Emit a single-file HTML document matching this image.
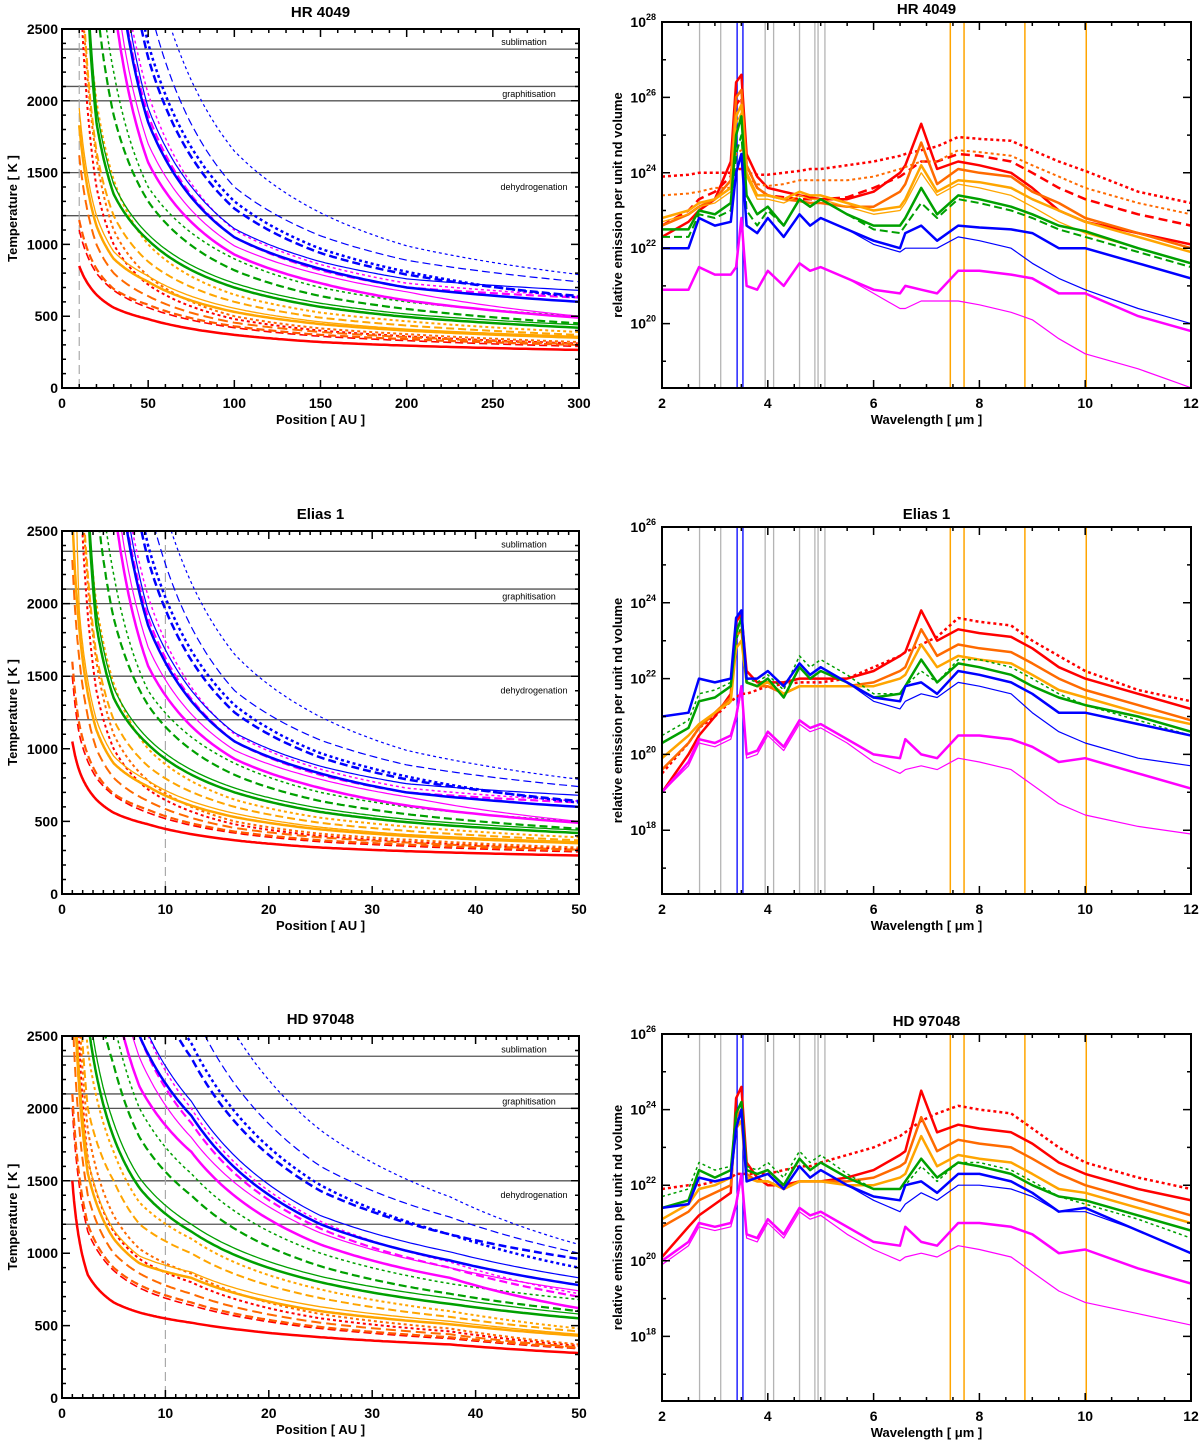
<!DOCTYPE html>
<html><head><meta charset="utf-8">
<style>
html,body{margin:0;padding:0;background:#fff;}
svg{display:block;font-family:"Liberation Sans",sans-serif;}
</style></head>
<body>
<svg id="fig" width="1200" height="1442" viewBox="0 0 1200 1442" xmlns="http://www.w3.org/2000/svg"></svg>
<script>
// ---------- temperature data (K) ----------
const hrX = [10,20,30,50,100,150,200,300];
const eliasX = [1.67,3.33,5,8.33,16.7,25,33.3,50];
const eliasStart = [1050,1500,1600,4500,2300,4800,2600,4600,5200,5700,6500,6800,7500,8200,9800,10500,11200,11900,11200,11900,13300,14000,15400,16800];
const hdX = [1,2.5,5,7.5,12.5,25,37.5,50];

const t01=[850,650,560,480,370,320,295,265], t02=[1100,800,680,560,420,360,330,290], t03=[1170,830,690,580,430,370,340,300],
t04=[3000,1400,1000,720,480,400,360,310], t05=[1620,1000,800,640,455,390,355,305], t06=[3200,1600,1100,780,500,415,375,320],
t07=[1830,1130,900,740,530,445,400,350], t08=[1950,1200,950,780,555,460,410,360], t09=[3300,1650,1200,880,600,490,435,370],
t10=[3800,2000,1450,1000,650,525,465,390], t11=[4500,1850,1350,1030,700,565,495,420], t12=[4700,1950,1420,1070,730,590,515,440],
t13=[5500,2700,1900,1300,820,640,550,450], t14=[6000,3100,2200,1400,900,700,600,500], t15=[7000,3800,2700,1570,930,730,610,490],
t16=[7500,4000,2900,1700,990,790,670,500], t17=[8000,4400,3200,1900,1050,820,700,630], t18=[8500,4700,3400,2050,1100,860,730,640],
t19=[8000,4500,3200,1850,1050,830,700,600], t20=[8500,4700,3400,1950,1110,880,760,680], t21=[9500,5500,3900,2300,1250,940,790,640],
t22=[10000,5800,4100,2400,1300,970,810,630], t23=[11000,6500,4600,2700,1400,1060,890,740], t24=[12000,7500,5300,3100,1650,1220,990,790];
const hrT=[t01,t02,t03,t04,t05,t06,t07,t08,t09,t10,t11,t12,t13,t14,t15,t16,t17,t18,t19,t20,t21,t22,t23,t24];

const h01=[1500,850,660,590,520,420,370,310], h02=[2000,1150,880,760,640,480,410,340], h03=[2100,1200,900,780,660,490,420,345],
h04=[4000,1650,1150,960,800,550,460,360], h05=[2700,1400,1000,860,720,520,440,350], h06=[4200,1850,1260,1030,860,580,480,370],
h07=[3200,1550,1100,930,830,600,510,430], h08=[3400,1650,1160,980,870,630,530,440], h09=[4500,2000,1500,1200,1000,690,560,460],
h10=[5000,2400,1700,1350,1100,750,600,480], h11=[6000,2600,1800,1450,1150,800,650,550], h12=[6300,2750,1900,1520,1200,840,690,580],
h13=[7000,3200,2300,1800,1400,910,720,600], h14=[8000,3600,2600,2000,1550,1000,790,680], h15=[9000,4300,2800,2150,1700,1060,830,620],
h16=[9500,4600,3050,2350,1800,1140,900,740], h17=[10000,5000,3300,2500,1900,1170,900,700], h18=[10500,5300,3500,2650,2000,1220,940,720],
h19=[10000,5000,3300,2500,1950,1200,950,780], h20=[10500,5300,3550,2650,2050,1260,1010,830], h21=[12000,6200,4100,3100,2350,1430,1130,960],
h22=[12500,6500,4300,3250,2450,1470,1130,900], h23=[14000,7300,4800,3600,2700,1600,1250,1000], h24=[16000,8500,5500,4100,3150,1850,1390,1060];
const hdT=[h01,h02,h03,h04,h05,h06,h07,h08,h09,h10,h11,h12,h13,h14,h15,h16,h17,h18,h19,h20,h21,h22,h23,h24];

// temperature curve styles: [color, width, dash]
const tStyles=[["#ff0000",2.5,""],["#ff0000",1.6,"8,4"],["#ff5a00",2.2,"8,4"],["#ff0000",2,"3,3"],["#ff6a00",2,"10,5"],["#ff6a00",2,"3,3"],
["#ffa500",2.5,""],["#ffa500",1.3,""],["#ffa500",2,"8,4"],["#ffa500",2,"3,3"],["#00a000",2.5,""],["#00a000",1.3,""],
["#00a000",2.2,"8,4"],["#00a000",1.5,"3,3"],["#ff00ff",2.5,""],["#ff00ff",1.2,""],["#ff00ff",2.2,"8,4"],["#ff00ff",1.5,"3,3"],
["#0000ff",2.5,""],["#0000ff",1.2,""],["#0000ff",2.5,"8,4"],["#0000ff",2.5,"3,3"],["#0000ff",1.2,"8,4"],["#0000ff",1.2,"3,3"]];

// ---------- spectra (log10 emission) ----------
const wl=[2,2.5,2.7,3.0,3.3,3.4,3.5,3.6,3.8,4.0,4.3,4.6,4.8,5.0,5.5,6.0,6.5,6.6,6.9,7.2,7.6,8.0,8.6,9.0,9.5,10,11,12];
const hrRed=[22.3,22.7,23.0,23.3,24.3,26.4,26.6,24.5,23.9,23.6,23.5,23.4,23.35,23.3,23.3,23.5,24.0,24.2,25.3,24.1,24.3,24.2,24.0,23.6,23.0,22.7,22.4,22.1];
const hrRedDot=[23.9,23.95,24.0,24.0,24.0,24.1,24.1,24.0,23.95,23.95,24.0,24.05,24.1,24.1,24.2,24.3,24.45,24.5,24.6,24.7,24.95,24.9,24.85,24.6,24.3,24.05,23.5,23.2];
const hrRedDash=[22.6,23.0,23.3,23.5,23.9,25.8,26.0,24.2,23.6,23.4,23.35,23.3,23.3,23.3,23.35,23.6,23.9,24.0,24.3,24.3,24.5,24.45,24.3,24.0,23.6,23.3,22.9,22.6];
const hrOrangeDot=[23.4,23.45,23.5,23.6,23.6,24.5,24.6,23.9,23.7,23.65,23.7,23.8,23.8,23.8,23.8,23.9,24.1,24.15,24.3,24.3,24.6,24.55,24.45,24.2,23.9,23.6,23.2,22.9];
const hrOrange=[22.6,22.9,23.1,23.3,23.8,26.0,26.2,24.2,23.6,23.4,23.3,23.25,23.2,23.2,23.1,23.1,23.5,23.7,24.8,23.7,24.1,24.0,23.9,23.5,23.2,22.8,22.4,22.0];
const hrYellow=[22.8,23.0,23.2,23.3,23.6,25.5,25.8,24.0,23.4,23.4,23.3,23.5,23.4,23.4,23.2,23.0,23.1,23.3,24.2,23.5,23.8,23.75,23.6,23.3,23.0,22.7,22.3,21.9];
const hrYellowThin=[22.7,22.9,23.1,23.2,23.5,25.3,25.6,23.9,23.3,23.3,23.2,23.4,23.3,23.3,23.1,22.9,23.0,23.2,24.0,23.4,23.7,23.6,23.4,23.1,22.7,22.4,22.0,21.6];
const hrGreen=[22.5,22.5,23.0,22.9,23.2,25.0,25.5,23.4,22.9,23.1,22.6,23.3,23.1,23.3,22.9,22.6,22.6,22.8,23.6,22.9,23.4,23.3,23.1,22.9,22.6,22.45,22.0,21.6];
const hrGreenDash=[22.3,22.3,22.9,22.8,23.0,24.5,25.0,23.0,22.6,23.0,22.6,23.3,23.1,23.3,22.9,22.5,22.4,22.6,23.2,22.8,23.3,23.2,23.0,22.8,22.5,22.3,21.9,21.5];
const hrBlue=[22.0,22.0,22.8,22.6,22.7,24.0,24.5,22.6,22.4,22.8,22.3,22.9,22.6,22.8,22.5,22.2,22.0,22.4,22.6,22.2,22.6,22.55,22.5,22.4,22.0,22.0,21.6,21.2];
const hrBlueThin=[22.0,22.0,22.8,22.6,22.7,24.0,24.5,22.6,22.4,22.8,22.3,22.9,22.6,22.8,22.5,22.1,21.9,22.0,22.0,22.0,22.3,22.2,22.0,21.6,21.2,20.9,20.4,20.0];
const hrMag=[20.9,20.9,21.5,21.3,21.3,21.5,22.8,21.0,20.9,21.4,21.0,21.6,21.4,21.5,21.2,20.9,20.8,21.0,20.9,20.8,21.4,21.4,21.3,21.2,20.8,20.8,20.2,19.8];
const hrMagThin=[20.9,20.9,21.5,21.3,21.3,21.5,22.8,21.0,20.9,21.4,21.0,21.6,21.4,21.5,21.2,20.8,20.4,20.4,20.6,20.6,20.6,20.5,20.3,20.1,19.6,19.2,18.8,18.3];

const elRed=[19.0,20.0,20.5,21.0,21.6,23.5,23.7,22.2,21.9,21.9,21.9,22.0,22.0,22.0,22.0,22.2,22.6,22.7,23.8,23.0,23.3,23.2,23.1,22.8,22.3,22.0,21.6,21.2];
const elRedDot=[19.5,20.3,20.7,21.0,21.4,21.5,21.6,21.6,21.7,21.8,21.85,21.9,21.9,21.9,22.0,22.3,22.6,22.7,22.9,23.1,23.6,23.5,23.4,23.0,22.6,22.2,21.7,21.4];
const elOrange=[19.6,20.3,20.7,21.1,21.5,23.1,23.3,21.9,21.8,21.8,21.6,21.8,21.8,21.8,21.8,21.9,22.2,22.3,23.3,22.6,22.9,22.8,22.7,22.4,22.0,21.7,21.3,20.9];
const elYellow=[19.9,20.5,20.8,21.1,21.4,22.8,23.0,21.9,21.8,21.9,21.6,21.8,21.8,21.8,21.8,21.8,22.0,22.1,22.9,22.3,22.6,22.5,22.4,22.1,21.7,21.5,21.1,20.8];
const elGreen=[20.3,20.7,21.4,21.5,21.8,23.2,23.6,21.9,21.8,22.0,21.5,22.3,22.0,22.2,21.9,21.5,21.6,21.8,22.5,21.9,22.4,22.3,22.1,21.8,21.5,21.3,21.0,20.6];
const elGreenDot=[20.5,20.9,21.6,21.7,21.9,23.0,23.4,22.0,21.9,22.1,21.7,22.6,22.3,22.5,22.1,21.6,21.6,21.8,22.2,21.9,22.5,22.5,22.3,22.0,21.6,21.3,20.9,20.5];
const elBlue=[21.0,21.1,22.0,21.9,22.0,23.6,23.8,22.0,22.0,22.2,21.8,22.4,22.1,22.3,21.9,21.5,21.4,21.8,21.9,21.6,22.2,22.1,21.9,21.6,21.1,21.1,20.8,20.5];
const elBlueThin=[21.0,21.1,22.0,21.9,22.0,23.6,23.8,22.0,22.0,22.2,21.8,22.4,22.1,22.3,21.9,21.4,21.2,21.4,21.6,21.5,21.9,21.8,21.6,21.1,20.6,20.3,19.9,19.7];
const elMag=[19.0,19.8,20.4,20.3,20.5,21.0,21.8,20.0,20.1,20.6,20.2,20.9,20.7,20.8,20.4,20.0,19.9,20.4,20.0,19.9,20.5,20.5,20.4,20.2,19.8,19.9,19.5,19.1];
const elMagThin=[19.0,19.7,20.3,20.2,20.4,20.9,21.7,19.9,20.0,20.5,20.1,20.8,20.6,20.7,20.3,19.8,19.5,19.6,19.7,19.6,19.9,19.8,19.6,19.2,18.7,18.4,18.1,17.9];

const hdRed=[20.1,20.9,21.2,21.5,21.8,24.3,24.6,22.6,22.2,22.0,22.0,22.1,22.1,22.1,22.2,22.4,22.8,22.9,24.5,23.4,23.6,23.5,23.4,23.1,22.6,22.3,21.9,21.6];
const hdRedDot=[21.9,22.0,22.0,22.1,22.2,22.3,22.3,22.3,22.3,22.3,22.4,22.5,22.5,22.6,22.8,23.0,23.3,23.4,23.7,23.9,24.1,24.0,23.9,23.5,23.0,22.6,22.2,21.9];
const hdOrange=[20.9,21.3,21.6,21.8,22.0,23.8,24.0,22.3,22.1,22.1,21.9,22.1,22.1,22.1,22.1,22.2,22.5,22.6,23.8,22.9,23.2,23.1,23.0,22.7,22.3,22.0,21.6,21.2];
const hdYellow=[21.1,21.5,21.9,22.0,22.2,23.5,23.7,22.2,22.1,22.1,21.9,22.1,22.1,22.1,22.0,22.0,22.2,22.3,23.3,22.5,22.8,22.7,22.6,22.3,21.9,21.8,21.4,21.0];
const hdGreen=[21.4,21.6,22.4,22.2,22.4,23.9,24.2,22.4,22.3,22.4,22.0,22.7,22.4,22.6,22.2,21.9,21.9,22.1,22.7,22.2,22.6,22.5,22.3,22.0,21.7,21.6,21.2,20.8];
const hdGreenDot=[21.7,21.9,22.6,22.4,22.5,23.6,23.9,22.5,22.4,22.6,22.2,22.9,22.6,22.8,22.3,21.9,21.9,22.0,22.5,22.1,22.6,22.6,22.4,22.1,21.7,21.5,21.1,20.6];
const hdBlue=[21.4,21.5,22.2,22.1,22.2,23.5,24.0,22.1,22.2,22.3,21.9,22.5,22.2,22.4,22.0,21.7,21.6,22.0,22.1,21.8,22.3,22.3,22.1,21.8,21.3,21.4,20.8,20.2];
const hdBlueThin=[21.4,21.5,22.2,22.1,22.2,23.5,24.0,22.1,22.2,22.3,21.9,22.5,22.2,22.4,22.0,21.6,21.3,21.5,21.8,21.6,22.0,22.0,21.9,21.7,21.3,21.3,20.8,20.2];
const hdMag=[20.0,20.5,21.0,20.9,21.0,21.5,22.3,20.7,20.6,21.1,20.7,21.4,21.2,21.3,20.9,20.5,20.4,20.9,20.5,20.4,21.0,21.0,20.9,20.7,20.2,20.3,19.8,19.4];
const hdMagThin=[19.9,20.4,20.9,20.8,20.9,21.4,22.2,20.6,20.5,21.0,20.6,21.3,21.1,21.2,20.7,20.3,20.0,20.1,20.2,20.1,20.4,20.3,20.1,19.7,19.2,18.9,18.6,18.3];

const grayLines=[2.71,3.11,3.95,4.11,4.6,4.89,4.95,5.08];
const blueLines=[3.42,3.53];
const orangeLines=[7.45,7.71,8.86,10.02];
const tempLines=[2360,2100,2000,1500,1200];

// ---------- drawing ----------
const NS="http://www.w3.org/2000/svg";
const svg=document.getElementById('fig');
function mk(tag,attrs,parent){const e=document.createElementNS(NS,tag);for(const k in attrs)e.setAttribute(k,attrs[k]);(parent||svg).appendChild(e);return e;}
function txt(x,y,s,size,anchor,weight,parent){const t=mk('text',{x:x,y:y,'font-size':size,'text-anchor':anchor||'middle','font-weight':weight||'bold',fill:'#000'},parent);t.textContent=s;return t;}
let clipId=0;

function tempPanel(title,L,X,series,xmax,xmaj,xmin,starts){
  const g=mk('g',{});
  
  
  const sx=v=>L.x0+(v/xmax)*(L.x1-L.x0);
  const sy=v=>L.y1-(v/2500)*(L.y1-L.y0);
  const cid='c'+(clipId++);
  const cp=mk('clipPath',{id:cid},g);mk('rect',{x:L.x0,y:L.y0,width:L.x1-L.x0,height:L.y1-L.y0},cp);
  const plot=mk('g',{'clip-path':'url(#'+cid+')'},g);
  // reference lines
  tempLines.forEach(T=>{const l=mk('line',{x1:L.x0,x2:L.x1,y1:sy(T),y2:sy(T),stroke:'#555','stroke-width':1.3},plot);
    });
  const vl=mk('line',{x1:sx(10),x2:sx(10),y1:L.y0,y2:L.y1,stroke:'#aaa','stroke-width':1.2,'stroke-dasharray':'9,5'},plot);
  
  // curves
  series.forEach((vals,i)=>{
    let xs=X.slice(), ys=vals.slice();
    if(starts){xs=[1].concat(xs);ys=[starts[i]].concat(ys);}
    let d='';
    for(let k=0;k<xs.length-1;k++){
      const la=Math.log(xs[k]),lb=Math.log(xs[k+1]),ta=Math.log(ys[k]),tb=Math.log(ys[k+1]);
      const n=30;
      for(let j=(k==0?0:1);j<=n;j++){const f=j/n;const x=Math.exp(la+(lb-la)*f),t=Math.exp(ta+(tb-ta)*f);
        d+=(d?'L':'M')+sx(x).toFixed(1)+','+sy(t).toFixed(1);}
    }
    const st=tStyles[i];
    const p=mk('path',{d:d,fill:'none',stroke:st[0],'stroke-width':st[1],'stroke-dasharray':st[2]},plot);
    
    
  });
  // labels for lines
  const lf=9;
  const a=txt(L.x1-55,sy(2360)-4,'sublimation',lf,'middle','normal',g);
  const b=txt(L.x1-50,sy(2000)+13-17,'graphitisation',lf,'middle','normal',g);
  const c=txt(L.x1-45,sy(1380),'dehydrogenation',lf,'middle','normal',g);
  // frame and ticks
  mk('rect',{x:L.x0,y:L.y0,width:L.x1-L.x0,height:L.y1-L.y0,fill:'none',stroke:'#000','stroke-width':2},g);
  let tk='';
  for(let v=0;v<=xmax+1e-9;v+=xmin){const x=sx(v);const len=(Math.abs(v/xmaj-Math.round(v/xmaj))<1e-6)?8:4;
    tk+='M'+x+','+L.y1+'v'+(-len)+'M'+x+','+L.y0+'v'+len;}
  for(let v=0;v<=2500;v+=100){const y=sy(v);const len=(v%500==0)?8:4;tk+='M'+L.x0+','+y+'h'+len+'M'+L.x1+','+y+'h'+(-len);}
  mk('path',{d:tk,stroke:'#000','stroke-width':1.5,fill:'none'},g);
  for(let v=0;v<=xmax;v+=xmaj){const t=txt(sx(v),L.y1+20,String(v),14,'middle','bold',g);}
  for(let v=0;v<=2500;v+=500){const t=txt(L.x0-4,sy(v)+5,String(v),14,'end','bold',g);}
  const tt=txt((L.x0+L.x1)/2,L.y0-10-(L.y0-22>5?0:0),title,15,'middle','bold',g);tt.setAttribute('y',L.y0-12);
  const xt=txt((L.x0+L.x1)/2,L.y1+36,'Position [ AU ]',13,'middle','bold',g);
  const yt=txt(0,0,'Temperature [ K ]',13,'middle','bold',g);yt.setAttribute('transform','translate(17,'+((L.y0+L.y1)/2)+') rotate(-90)');
  
}

function specPanel(title,R,series,styles){
  const g=mk('g',{});
  
  
  const vbot=R.vtop-(R.y1-R.y0)/R.dec;
  const sx=v=>R.x0+(v-2)/10*(R.x1-R.x0);
  const sy=v=>R.y0+(R.vtop-v)*R.dec;
  const cid='c'+(clipId++);
  const cp=mk('clipPath',{id:cid},g);mk('rect',{x:R.x0,y:R.y0,width:R.x1-R.x0,height:R.y1-R.y0},cp);
  const plot=mk('g',{'clip-path':'url(#'+cid+')'},g);
  grayLines.forEach(w=>{const l=mk('line',{x1:sx(w),x2:sx(w),y1:R.y0,y2:R.y1,stroke:'#b4b4b4','stroke-width':1.3},plot);});
  blueLines.forEach(w=>{const l=mk('line',{x1:sx(w),x2:sx(w),y1:R.y0,y2:R.y1,stroke:'#0000ff','stroke-width':1.3},plot);});
  orangeLines.forEach(w=>{const l=mk('line',{x1:sx(w),x2:sx(w),y1:R.y0,y2:R.y1,stroke:'#ffa500','stroke-width':1.5},plot);});
  series.forEach((vals,i)=>{
    let d='';
    wl.forEach((w,k)=>{d+=(k?'L':'M')+sx(w).toFixed(1)+','+sy(vals[k]).toFixed(1);});
    const st=styles[i];
    const p=mk('path',{d:d,fill:'none',stroke:st[0],'stroke-width':st[1],'stroke-dasharray':st[2],'stroke-linejoin':'round'},plot);
    
    
  });
  mk('rect',{x:R.x0,y:R.y0,width:R.x1-R.x0,height:R.y1-R.y0,fill:'none',stroke:'#000','stroke-width':2},g);
  let tk='';
  for(let v=2;v<=12.001;v+=0.5){const x=sx(v);const len=(Math.abs(v%2)<1e-6)?8:4;tk+='M'+x+','+R.y1+'v'+(-len)+'M'+x+','+R.y0+'v'+len;}
  for(let v=Math.ceil(vbot);v<=R.vtop;v++){const y=sy(v);const len=(v%2==0)?8:4;tk+='M'+R.x0+','+y+'h'+len+'M'+R.x1+','+y+'h'+(-len);}
  mk('path',{d:tk,stroke:'#000','stroke-width':1.5,fill:'none'},g);
  for(let v=2;v<=12;v+=2){const t=txt(sx(v),R.y1+20,String(v),14,'middle','bold',g);}
  for(let v=R.vtop;v>vbot;v-=2){
    const t=mk('text',{x:R.x0-6,y:sy(v)+5,'font-size':14,'text-anchor':'end','font-weight':'bold'},g);
    
    const a=mk('tspan',{},t);a.textContent='10';
    const b=mk('tspan',{dy:-7,'font-size':9},t);b.textContent=String(v);
  }
  const tt=txt((R.x0+R.x1)/2,R.y0-8,title,15,'middle','bold',g);
  const xt=txt((R.x0+R.x1)/2,R.y1+36,'Wavelength [ \u03bcm ]',13,'middle','bold',g);
  const yt=txt(0,0,'relative emission per unit nd volume',13,'middle','bold',g);yt.setAttribute('transform','translate(622,'+((R.y0+R.y1)/2)+') rotate(-90)');
  
}

const hrStyles=[["#ff0000",2.5,""],["#ff0000",2.5,"3,3"],["#ff0000",2.5,"9,5"],["#ff6a00",2,"3,3"],["#ff6a00",2.5,""],["#ffa500",2.5,""],["#ffa500",1.3,""],
["#00a000",2.5,""],["#00a000",2,"8,4"],["#0000ff",2.5,""],["#0000ff",1.2,""],["#ff00ff",2.5,""],["#ff00ff",1.2,""]];
const otherStyles=[["#ff0000",2.5,""],["#ff0000",2.5,"3,3"],["#ff6a00",2.5,""],["#ffa500",2.5,""],["#00a000",2.5,""],["#00a000",1.5,"3,3"],
["#0000ff",2.5,""],["#0000ff",1.2,""],["#ff00ff",2.5,""],["#ff00ff",1.2,""]];

tempPanel('HR 4049',{x0:62,x1:579,y0:29,y1:388},hrX,hrT,300,50,10,null);
tempPanel('Elias 1',{x0:62,x1:579,y0:531,y1:894},eliasX,hrT,50,10,1,eliasStart);
tempPanel('HD 97048',{x0:62,x1:579,y0:1036,y1:1398},hdX,hdT,50,10,1,null);

specPanel('HR 4049',{x0:662,x1:1191,y0:22,y1:388,vtop:28,dec:37.7},
  [hrRed,hrRedDot,hrRedDash,hrOrangeDot,hrOrange,hrYellow,hrYellowThin,hrGreen,hrGreenDash,hrBlue,hrBlueThin,hrMag,hrMagThin],hrStyles);
specPanel('Elias 1',{x0:662,x1:1191,y0:527,y1:894,vtop:26,dec:37.9},
  [elRed,elRedDot,elOrange,elYellow,elGreen,elGreenDot,elBlue,elBlueThin,elMag,elMagThin],otherStyles);
specPanel('HD 97048',{x0:662,x1:1191,y0:1034,y1:1401,vtop:26,dec:37.8},
  [hdRed,hdRedDot,hdOrange,hdYellow,hdGreen,hdGreenDot,hdBlue,hdBlueThin,hdMag,hdMagThin],otherStyles);
</script>
</body></html>
